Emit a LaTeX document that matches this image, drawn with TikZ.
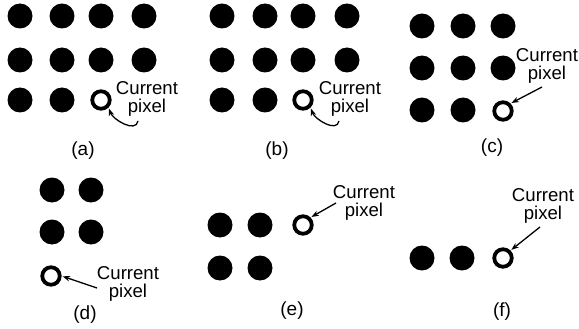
\documentclass[tikz,border=0pt]{standalone}
\usepackage{fontspec}
\setmainfont{Liberation Sans}
\usetikzlibrary{arrows.meta}
\begin{document}
\begin{tikzpicture}[x=1pt,y=-1pt,
  dot/.style={circle, fill=black, minimum size=25pt, inner sep=0pt},
  cur/.style={circle, draw=black, line width=3.8pt, minimum size=17.5pt, inner sep=0pt},
  lbl/.style={font=\fontsize{18.6}{18.5}\selectfont, align=center, inner sep=1pt},
  sublbl/.style={font=\fontsize{19}{19}\selectfont, inner sep=1pt},
  arr/.style={-{Stealth[length=7.5pt,width=5.5pt]}, line width=1.3pt, shorten >=1pt}]
\useasboundingbox (0,0) rectangle (579,329);
% (a)
\foreach \x [count=\i] in {20,62,101,144}{
  \node[dot] (a1\i) at (\x,16) {};
  \node[dot] (a2\i) at (\x,60) {};}
\node[dot] (a31) at (20,100) {};
\node[dot] (a32) at (62,100) {};
\node[cur] (ac) at (101,100) {};
\node[lbl] (at) at (147,99) {Current\\pixel};
\coordinate (as) at (138,121);
\draw[arr] (as) to[out=-100,in=-70] (ac.south east);
\node[sublbl] (al) at (83,151) {(a)};
% (b)
\foreach \x [count=\i] in {222,265,303,347}{
  \node[dot] (b1\i) at (\x,16) {};
  \node[dot] (b2\i) at (\x,60) {};}
\node[dot] (b31) at (222,100) {};
\node[dot] (b32) at (265,100) {};
\node[cur] (bc) at (303,100) {};
\node[lbl] (bt) at (350,99) {Current\\pixel};
\coordinate (bs) at (339,121);
\draw[arr] (bs) to[out=-100,in=-70] (bc.south east);
\node[sublbl] (bl) at (277,151) {(b)};
% (c)
\foreach \x [count=\i] in {422,463,503}{
  \node[dot] (c1\i) at (\x,26) {};}
\foreach \x [count=\i] in {422,463,503}{
  \node[dot] (c2\i) at (\x,68) {};}
\node[dot] (c31) at (422,110) {};
\node[dot] (c32) at (463,110) {};
\node[cur] (cc) at (503,111) {};
\node[lbl] (ct) at (547,66) {Current\\pixel};
\coordinate (cs) at (542,87);
\draw[arr] (cs) -- (cc.north east);
\node[sublbl] (cl) at (492,148) {(c)};
% (d)
\node[dot] (d11) at (52,190) {};
\node[dot] (d12) at (91,190) {};
\node[dot] (d21) at (52,232) {};
\node[dot] (d22) at (91,232) {};
\node[cur] (dc) at (51,276) {};
\node[lbl] (dt) at (128,284) {Current\\pixel};
\coordinate (ds) at (97,288);
\draw[arr] (ds) -- (dc.east);
\node[sublbl] (dl) at (85,315) {(d)};
% (e)
\node[dot] (e11) at (220,225) {};
\node[dot] (e12) at (260,225) {};
\node[cur] (ec) at (303,225) {};
\node[dot] (e21) at (220,268) {};
\node[dot] (e22) at (260,268) {};
\node[lbl] (et) at (364,203) {Current\\pixel};
\coordinate (es) at (336,203);
\draw[arr] (es) -- (ec.north east);
\node[sublbl] (el) at (292,311) {(e)};
% (f)
\node[dot] (f1) at (422,258) {};
\node[dot] (f2) at (462,258) {};
\node[cur] (fc) at (503,258) {};
\node[lbl] (ft) at (543,206) {Current\\pixel};
\coordinate (fs) at (540,227);
\draw[arr] (fs) -- (fc.north east);
\node[sublbl] (fl) at (502,312) {(f)};
\end{tikzpicture}
\end{document}
